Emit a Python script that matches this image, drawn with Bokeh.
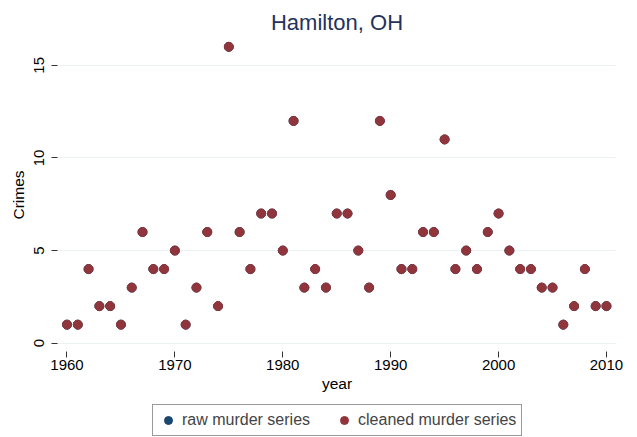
from bokeh.plotting import figure
from bokeh.layouts import column
from bokeh.models import ColumnDataSource, Legend, LegendItem, Range1d, FixedTicker, Title
from bokeh.embed import file_html
from bokeh.resources import INLINE

years = list(range(1960, 2011))
raw_murders = [1, 1, 4, 2, 2, 1, 3, 6, 4, 4,
               5, 1, 3, 6, 2, 16, 6, 4, 7, 7,
               5, 12, 3, 4, 3, 7, 7, 5, 3, 12,
               8, 4, 4, 6, 6, 11, 4, 5, 4, 6,
               7, 5, 4, 4, 3, 3, 1, 2, 4, 2, 2]
cleaned_murders = list(raw_murders)
x_ticks = [1960, 1970, 1980, 1990, 2000, 2010]
y_ticks = [0, 5, 10, 15]
series_labels = ["raw murder series", "cleaned murder series"]

FONT = "Liberation Sans"
NAVY = "#1a476f"
MAROON = "#90353b"

p = figure(width=637, height=396, output_backend="svg", toolbar_location=None,
           x_range=Range1d(1959.12, 2010.93), y_range=Range1d(-0.45, 16.45),
           min_border_left=57, min_border_right=21, min_border_top=38, min_border_bottom=45)
p.outline_line_color = None
p.background_fill_color = "white"
p.border_fill_color = "white"

t = Title(text="Hamilton, OH", align="center", text_font=FONT, text_font_size="22px",
          text_font_style="normal", text_color="#24325c", standoff=8)
p.add_layout(t, "above")

src = ColumnDataSource(dict(year=years, raw=raw_murders, cleaned=cleaned_murders))
r1 = p.scatter("year", "raw", source=src, size=9, color=NAVY)
r2 = p.scatter("year", "cleaned", source=src, size=9, color=MAROON)

p.xgrid.grid_line_color = None
p.ygrid.grid_line_color = "#eaf2f3"
p.ygrid.grid_line_width = 1.2
p.xaxis.ticker = FixedTicker(ticks=x_ticks)
p.yaxis.ticker = FixedTicker(ticks=y_ticks)
for ax in (p.xaxis[0], p.yaxis[0]):
    ax.axis_line_color = None
    ax.major_tick_line_color = "#333333"
    ax.major_tick_out = 6
    ax.major_tick_in = 0
    ax.minor_tick_line_color = None
    ax.major_label_text_font = FONT
    ax.major_label_text_font_size = "15px"
    ax.major_label_text_color = "black"
    ax.axis_label_text_font = FONT
    ax.axis_label_text_font_size = "15.5px"
    ax.axis_label_text_font_style = "normal"
    ax.axis_label_text_color = "black"
p.xaxis.axis_label = "year"
p.yaxis.axis_label = "Crimes"
p.yaxis.major_label_orientation = "vertical"
p.xaxis.major_label_standoff = 2
p.xaxis.axis_label_standoff = 2
p.yaxis.major_label_standoff = 7
p.yaxis.axis_label_standoff = 5

# legend strip
p2 = figure(width=637, height=41, output_backend="svg", toolbar_location=None,
            x_range=Range1d(0, 1), y_range=Range1d(0, 1),
            min_border=0, x_axis_type=None, y_axis_type=None)
p2.outline_line_color = None
p2.xgrid.visible = False
p2.ygrid.visible = False
offscreen = ColumnDataSource(dict(x=[-10], y=[-10]))
l1 = p2.scatter("x", "y", source=offscreen, size=8, color=NAVY)
l2 = p2.scatter("x", "y", source=offscreen, size=8, color=MAROON)
legend = Legend(items=[LegendItem(label=series_labels[0], renderers=[l1]),
                       LegendItem(label=series_labels[1], renderers=[l2])],
                orientation="horizontal", location=(95, 1),
                label_text_font=FONT, label_text_font_size="16px",
                border_line_color="#333333", border_line_width=1,
                background_fill_color="white", background_fill_alpha=1,
                padding=5, spacing=24, glyph_width=20, glyph_height=20, label_standoff=4,
                margin=0)
p2.add_layout(legend, "center")

open("out.html", "w").write(file_html(column(p, p2, spacing=0), INLINE))
